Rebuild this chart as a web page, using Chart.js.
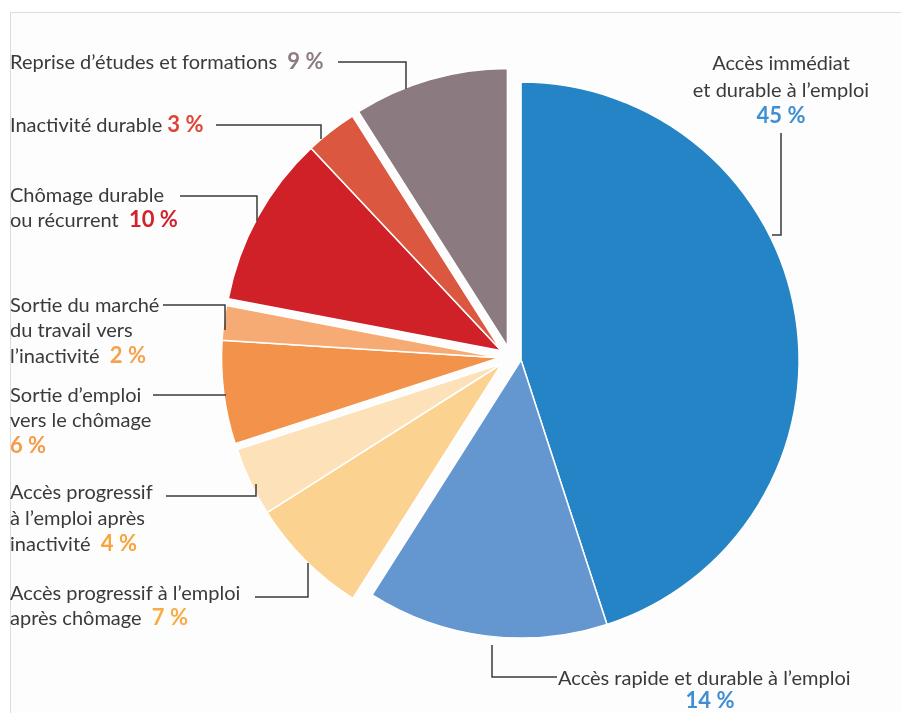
<!DOCTYPE html>
<html><head><meta charset="utf-8">
<script src="https://cdn.jsdelivr.net/npm/chart.js@4/dist/chart.umd.min.js"></script>
<style>
html,body{margin:0;padding:0;background:#fff;}
#wrap{position:relative;width:901px;height:713px;overflow:hidden;}
#frame{position:absolute;left:10px;top:12px;width:900px;height:710px;border-top:1px solid #dcdcdc;border-left:1px solid #dcdcdc;background:#fdfdfd;}
canvas{position:absolute;left:0;top:0;}
</style></head><body>
<div id="wrap"><div id="frame"></div><canvas id="c" width="901" height="713"></canvas></div>
<script>
// ---- data ----
const categories = [
  "Accès immédiat et durable à l’emploi",
  "Accès rapide et durable à l’emploi",
  "Accès progressif à l’emploi après chômage",
  "Accès progressif à l’emploi après inactivité",
  "Sortie d’emploi vers le chômage",
  "Sortie du marché du travail vers l’inactivité",
  "Chômage durable ou récurrent",
  "Inactivité durable",
  "Reprise d’études et formations"
];
const values = [45, 14, 7, 4, 6, 2, 10, 3, 9];
const groups = [0, 0, 1, 1, 2, 2, 3, 3, 4];

// ---- style ----
const sliceColors = ['#2484c6','#6497cf','#fbd290','#fde2b9','#f3934b','#f6ab74','#d02028','#dc5740','#8b7a80'];
const pctColors   = ['#3d8ed4','#3d8ed4','#f8ac45','#f7a53c','#f49c48','#f6a24c','#d2232b','#df4435','#8b7b82'];
const explode = 11;
const textColor = '#3a3a3a';
const lineColor = '#3a3a3a';
const fontReg = '20px Lato';
const fontPct = 'bold 22px Lato';

// label lines: [series, x, baseline y, align, text, showPct]
const labelLines = [
  [8, 10, 69, 'left', 'Reprise d’études et formations  ', true],
  [7, 10, 132, 'left', 'Inactivité durable ', true],
  [6, 10, 202, 'left', 'Chômage durable', false],
  [6, 10, 227, 'left', 'ou récurrent  ', true],
  [5, 10, 312, 'left', 'Sortie du marché', false],
  [5, 10, 337, 'left', 'du travail vers', false],
  [5, 10, 363, 'left', 'l’inactivité  ', true],
  [4, 10, 402, 'left', 'Sortie d’emploi', false],
  [4, 10, 427, 'left', 'vers le chômage', false],
  [4, 10, 453, 'left', '', true],
  [3, 10, 499, 'left', 'Accès progressif', false],
  [3, 10, 525, 'left', 'à l’emploi après', false],
  [3, 10, 551, 'left', 'inactivité  ', true],
  [2, 10, 600, 'left', 'Accès progressif à l’emploi', false],
  [2, 10, 625, 'left', 'après chômage  ', true],
  [0, 781, 70, 'center', 'Accès immédiat', false],
  [0, 781, 97, 'center', 'et durable à l’emploi', false],
  [0, 781, 123, 'center', '', true],
  [1, 558, 685, 'left', 'Accès rapide et durable à l’emploi', false],
  [1, 710, 708, 'center', '', true]
];
// leader lines (annotation polylines)
const leaders = [
  [[338,62],[406,62],[406,89]],
  [[216,125],[321,125],[321,139]],
  [[180,196],[257,196],[257,221]],
  [[163,305],[225,305],[225,330]],
  [[153,395],[226,395]],
  [[166,496],[256,496],[256,484]],
  [[255,597],[308,597],[308,563]],
  [[492,645],[492,677],[557,677]],
  [[781,133],[781,235],[772,235]]
];

const explodePlugin = {
  id: 'groupExplode',
  beforeDatasetsDraw(chart) {
    const meta = chart.getDatasetMeta(0);
    const ctx = chart.ctx;
    const gStart = {}, gEnd = {};
    meta.data.forEach((arc, i) => {
      const g = groups[i];
      gStart[g] = Math.min(gStart[g] ?? Infinity, arc.startAngle);
      gEnd[g] = Math.max(gEnd[g] ?? -Infinity, arc.endAngle);
    });
    meta.data.forEach((arc, i) => {
      const g = groups[i];
      const mid = (gStart[g] + gEnd[g]) / 2;
      ctx.save();
      ctx.translate(Math.cos(mid) * explode, Math.sin(mid) * explode);
      arc.draw(ctx, chart.chartArea);
      ctx.restore();
    });
    return false;
  }
};

const labelPlugin = {
  id: 'labels',
  afterDraw(chart) {
    const ctx = chart.ctx;
    ctx.save();
    ctx.strokeStyle = lineColor;
    ctx.lineWidth = 1.5;
    leaders.forEach(pts => {
      ctx.beginPath();
      pts.forEach((p, k) => k ? ctx.lineTo(p[0], p[1]) : ctx.moveTo(p[0], p[1]));
      ctx.stroke();
    });
    ctx.textBaseline = 'alphabetic';
    labelLines.forEach(([s, x, y, align, text, showPct]) => {
      const pct = showPct ? (values[s] + ' %') : '';
      ctx.font = fontReg;
      const wT = text ? ctx.measureText(text).width : 0;
      ctx.font = fontPct;
      const wP = pct ? ctx.measureText(pct).width : 0;
      const total = wT + wP;
      let x0 = align === 'center' ? x - total / 2 : x;
      ctx.textAlign = 'left';
      if (text) {
        ctx.font = fontReg;
        ctx.fillStyle = textColor;
        ctx.fillText(text, x0, y);
      }
      if (pct) {
        ctx.font = fontPct;
        ctx.fillStyle = pctColors[s];
        ctx.fillText(pct, x0 + wT, y);
      }
    });
    ctx.restore();
  }
};

new Chart(document.getElementById('c'), {
  type: 'pie',
  data: {
    labels: categories,
    datasets: [{
      data: values,
      backgroundColor: sliceColors,
      borderColor: '#ffffff',
      borderWidth: 1.5
    }]
  },
  options: {
    responsive: false,
    animation: false,
    radius: 278,
    layout: { padding: { left: 220, right: 100, top: 70, bottom: 69 } },
    plugins: { legend: { display: false }, tooltip: { enabled: false } }
  },
  plugins: [explodePlugin, labelPlugin]
});
</script>
</body></html>
